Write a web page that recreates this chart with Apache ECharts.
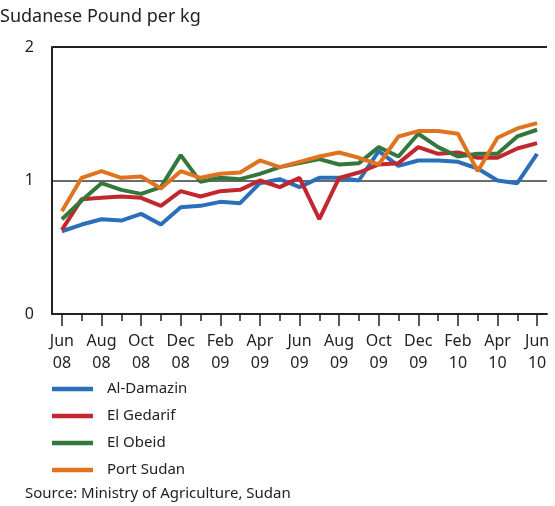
<!DOCTYPE html>
<html>
<head>
<meta charset="utf-8">
<script src="https://cdn.jsdelivr.net/npm/echarts@6/dist/echarts.min.js"></script>
<style>
  html, body { margin: 0; padding: 0; background: #fff; }
  #chart { width: 555px; height: 506px; }
</style>
</head>
<body>
<div id="chart"></div>
<script>
// months, Jun 08 .. Jun 10
const months = ['Jun 08', 'Jul 08', 'Aug 08', 'Sep 08', 'Oct 08', 'Nov 08', 'Dec 08',
  'Jan 09', 'Feb 09', 'Mar 09', 'Apr 09', 'May 09', 'Jun 09', 'Jul 09', 'Aug 09',
  'Sep 09', 'Oct 09', 'Nov 09', 'Dec 09', 'Jan 10', 'Feb 10', 'Mar 10', 'Apr 10',
  'May 10', 'Jun 10'];

const alDamazin = [0.62, 0.67, 0.71, 0.70, 0.75, 0.67, 0.80, 0.81, 0.84, 0.83, 0.98, 1.01, 0.95,
  1.02, 1.02, 1.00, 1.22, 1.11, 1.15, 1.15, 1.14, 1.09, 1.00, 0.98, 1.20];
const elGedarif = [0.63, 0.86, 0.87, 0.88, 0.87, 0.81, 0.92, 0.88, 0.92, 0.93, 1.00, 0.95, 1.02,
  0.71, 1.02, 1.06, 1.12, 1.13, 1.25, 1.20, 1.21, 1.17, 1.17, 1.24, 1.28];
const elObeid = [0.71, 0.85, 0.98, 0.93, 0.90, 0.95, 1.19, 0.99, 1.02, 1.01, 1.05, 1.10, 1.13,
  1.16, 1.12, 1.13, 1.25, 1.18, 1.35, 1.25, 1.18, 1.20, 1.20, 1.33, 1.38];
const portSudan = [0.77, 1.02, 1.07, 1.02, 1.03, 0.94, 1.07, 1.02, 1.05, 1.06, 1.15, 1.10, 1.14,
  1.18, 1.21, 1.17, 1.12, 1.33, 1.37, 1.37, 1.35, 1.07, 1.32, 1.39, 1.43];

const yTicks = [0, 1, 2];

const FONT = 'Noto Sans';
const chart = echarts.init(document.getElementById('chart'));

const mkLine = (name, data, color) => ({
  name: name,
  type: 'line',
  data: data,
  symbol: 'none',
  lineStyle: { color: color, width: 4 },
  itemStyle: { color: color },
  z: 3
});

const option = {
  animation: false,
  textStyle: { fontFamily: FONT },
  grid: { left: 52, right: 8, top: 47, bottom: 192 },
  graphic: [
    { type: 'text', left: 0, top: 8,
      style: { text: 'Sudanese Pound per kg', font: '18px "' + FONT + '"', fill: '#222' } },
    { type: 'text', left: 25, top: 486,
      style: { text: 'Source: Ministry of Agriculture, Sudan', font: '15px "' + FONT + '"', fill: '#222' } }
  ],
  legend: {
    orient: 'vertical',
    left: 52, top: 380,
    padding: 0,
    icon: 'rect',
    itemWidth: 41, itemHeight: 4.5,
    itemGap: 9,
    textStyle: { fontSize: 15, color: '#222', padding: [0, 0, 0, 9], lineHeight: 18 },
    data: ['Al-Damazin', 'El Gedarif', 'El Obeid', 'Port Sudan']
  },
  xAxis: [
    {
      type: 'category',
      data: months,
      boundaryGap: true,
      axisLine: { show: true, onZero: false, lineStyle: { color: '#222', width: 2 } },
      axisTick: { show: true, alignWithLabel: true, interval: 1, length: 12, lineStyle: { color: '#222', width: 1.5 } },
      axisLabel: {
        interval: 1, margin: 16, fontSize: 16, color: '#222', lineHeight: 22,
        formatter: v => v.replace(' ', '\n')
      }
    },
    {
      type: 'category',
      data: months,
      position: 'bottom',
      offset: 0,
      boundaryGap: true,
      axisLine: { show: false, onZero: false },
      axisTick: { show: true, alignWithLabel: true, interval: 0, length: 7, lineStyle: { color: '#222', width: 1.5 } },
      axisLabel: { show: false }
    }
  ],
  yAxis: {
    type: 'value',
    min: yTicks[0], max: yTicks[yTicks.length - 1], interval: 1,
    axisLine: { show: true, lineStyle: { color: '#222', width: 2 } },
    axisTick: { show: false },
    axisLabel: { fontSize: 16, color: '#222', margin: 18 },
    splitLine: { show: true, showMinLine: true, showMaxLine: true, lineStyle: { color: ['#222', '#6b6b6b', '#222'], width: 2 } }
  },
  series: [
    mkLine('Al-Damazin', alDamazin, '#2b6fba'),
    mkLine('El Gedarif', elGedarif, '#c1272d'),
    mkLine('El Obeid', elObeid, '#33773d'),
    mkLine('Port Sudan', portSudan, '#e0731f')
  ]
};

chart.setOption(option);
</script>
</body>
</html>
